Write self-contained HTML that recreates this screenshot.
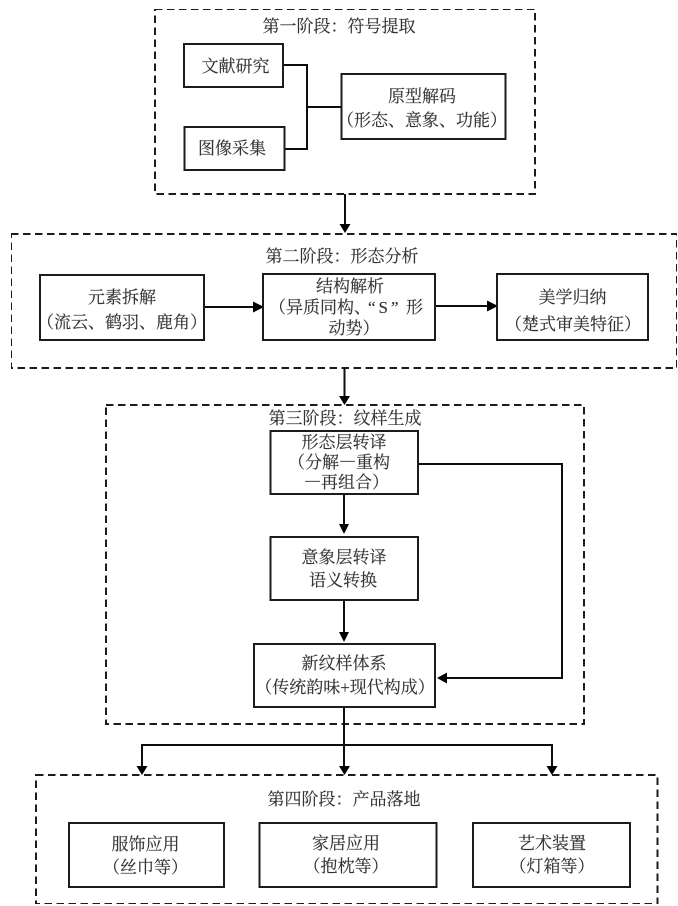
<!DOCTYPE html>
<html lang="zh-CN">
<head>
<meta charset="utf-8">
<style>
html,body{margin:0;padding:0;background:#fff;width:678px;height:906px;overflow:hidden}
svg{display:block}
text{font-family:"Noto Serif CJK SC","Liberation Serif",serif;font-size:17px;fill:#333;text-anchor:middle;stroke:#333;stroke-width:0.15}
.l{font-family:"Liberation Serif",serif}
.d{fill:none;stroke:#1a1a1a;stroke-width:2;stroke-dasharray:7.5 4.5}
.b{fill:#fff;stroke:#1a1a1a;stroke-width:2}
.c{fill:none;stroke:#111;stroke-width:2}
.a{fill:#000;stroke:none}
</style>
</head>
<body>
<svg width="678" height="906" viewBox="0 0 678 906" xmlns="http://www.w3.org/2000/svg">
<defs><filter id="s" x="0" y="0" width="100%" height="100%"><feGaussianBlur stdDeviation="0.35"/></filter></defs>
<g filter="url(#s)">
<!-- stage boxes -->
<rect class="d" x="155" y="9" width="380" height="185"/>
<rect class="d" x="11" y="234" width="666" height="134"/>
<rect class="d" x="106" y="405" width="478" height="319"/>
<rect class="d" x="36" y="775" width="621.5" height="129"/>

<!-- connectors -->
<path class="c" d="M283 65H307V149H284M307 107H341"/>
<path class="c" d="M345 194V226"/>
<path class="a" d="M339.500 224H350.500L345 233Z"/>
<path class="c" d="M204 307H255"/>
<path class="a" d="M253 301.500L264 307L253 312.500Z"/>
<path class="c" d="M436 306H489"/>
<path class="a" d="M487 300.500L498 306L487 311.500Z"/>
<path class="c" d="M344.500 368V398"/>
<path class="a" d="M339 396H350L344.500 405Z"/>
<path class="c" d="M344 494V526"/>
<path class="a" d="M339 524H349L344 534Z"/>
<path class="c" d="M344 600V634"/>
<path class="a" d="M339 632H349L344 642Z"/>
<path class="c" d="M418 464H562V678H446"/>
<path class="a" d="M447 672.500V683.500L437 678Z"/>
<path class="c" d="M344 707V768M142 768V745H552V768"/>
<path class="a" d="M136.500 766H147.500L142 775Z"/>
<path class="a" d="M339 766H350L344.500 775Z"/>
<path class="a" d="M546.500 766H557.500L552 775Z"/>

<!-- nodes -->
<rect class="b" x="184" y="44" width="99" height="43"/>
<rect class="b" x="184.500" y="127" width="100" height="43"/>
<rect class="b" x="341.500" y="74" width="164" height="65"/>
<rect class="b" x="40" y="275" width="164" height="65"/>
<rect class="b" x="263" y="274" width="172" height="66"/>
<rect class="b" x="497" y="274" width="151" height="66"/>
<rect class="b" x="270.500" y="431" width="147.500" height="63"/>
<rect class="b" x="270.500" y="537" width="147.500" height="63"/>
<rect class="b" x="254" y="644" width="181" height="63"/>
<rect class="b" x="69" y="823" width="155" height="64"/>
<rect class="b" x="259.500" y="823" width="177" height="64"/>
<rect class="b" x="473" y="823" width="157" height="64"/>

<!-- labels -->
<text x="339" y="32">第一阶段&#xFF1A;符号提取</text>
<text x="235.500" y="72">文献研究</text>
<text x="232" y="154">图像采集</text>
<text x="422" y="102">原型解码</text>
<text x="422" y="126">&#xFF08;形态、意象、功能&#xFF09;</text>

<text x="342" y="262">第二阶段&#xFF1A;形态分析</text>
<text x="122" y="303">元素拆解</text>
<text x="122" y="328">&#xFF08;流云、鹤羽、鹿角&#xFF09;</text>
<text x="350" y="292">结构解析</text>
<text x="269" y="313" style="text-anchor:start">&#xFF08;异质同构、</text>
<text class="l" x="368" y="313" style="text-anchor:start;letter-spacing:3px">“S”</text>
<text x="406" y="313" style="text-anchor:start">形</text>
<text x="354" y="334">动势&#xFF09;</text>
<text x="572.500" y="303">美学归纳</text>
<text x="573" y="330">&#xFF08;楚式审美特征&#xFF09;</text>

<text x="345" y="424">第三阶段&#xFF1A;纹样生成</text>
<text x="344" y="448">形态层转译</text>
<text x="339" y="468">&#xFF08;分解—重构</text>
<text x="346.500" y="488">—再组合&#xFF09;</text>
<text x="344" y="563">意象层转译</text>
<text x="343" y="586">语义转换</text>
<text x="344" y="669">新纹样体系</text>
<text x="345" y="693">&#xFF08;传统韵味<tspan class="l">+</tspan>现代构成&#xFF09;</text>

<text x="344" y="805">第四阶段&#xFF1A;产品落地</text>
<text x="145.500" y="850">服饰应用</text>
<text x="145.500" y="873">&#xFF08;丝巾等&#xFF09;</text>
<text x="346" y="849">家居应用</text>
<text x="346" y="872">&#xFF08;抱枕等&#xFF09;</text>
<text x="552" y="849">艺术装置</text>
<text x="552" y="872">&#xFF08;灯箱等&#xFF09;</text>
</g>
</svg>
</body>
</html>
